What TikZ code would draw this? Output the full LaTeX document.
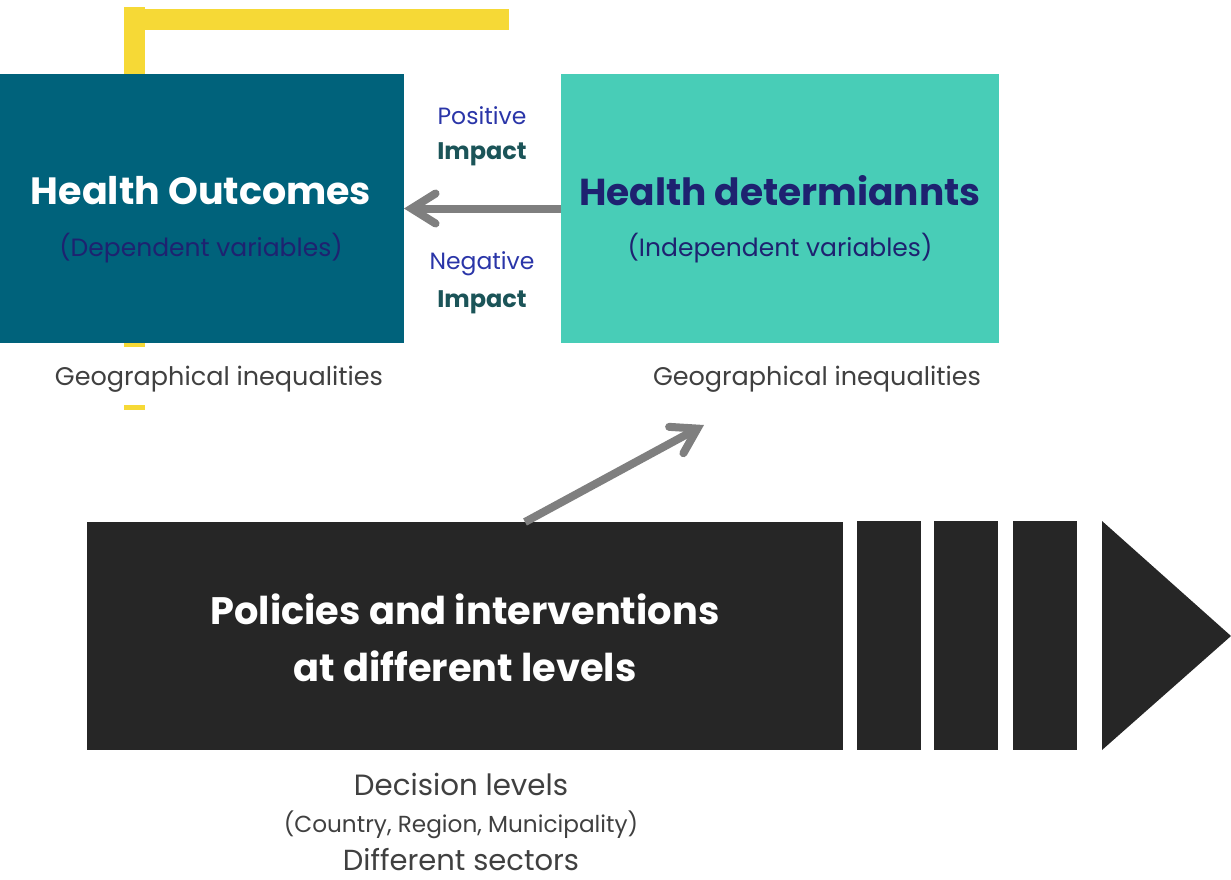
\documentclass[tikz,border=0pt]{standalone}
\usepackage{fontspec}
\setmainfont{Poppins}
\usetikzlibrary{arrows.meta}
\definecolor{teal}{HTML}{00627B}
\definecolor{mint}{HTML}{48CDB7}
\definecolor{ylw}{HTML}{F6D936}
\definecolor{navy}{HTML}{1E2270}
\definecolor{navyb}{HTML}{2A35A8}
\definecolor{impc}{HTML}{1B5458}
\definecolor{dark}{HTML}{262626}
\definecolor{arr}{HTML}{7F7F7F}
\definecolor{txt}{HTML}{404040}
\tikzset{
  box/.style={inner sep=0pt, outer sep=0pt, anchor=north west},
  conn/.style={draw=arr, line width=8pt, -{Straight Barb[length=24pt,width=30pt,line cap=round]}},
  lbl/.style={inner sep=0pt, text=txt},
}
\begin{document}
\begin{tikzpicture}[x=1pt,y=-1pt]
\useasboundingbox (0,0) rectangle (1231,879);
% yellow bracket
\fill[ylw] (124,7) rectangle (145,347);
\fill[ylw] (124,405) rectangle (145,410);
\fill[ylw] (124,9) rectangle (509,30);
% boxes
\node[box, fill=teal, minimum width=404pt, minimum height=269pt] (out) at (0,74) {};
\node[box, fill=mint, minimum width=438pt, minimum height=269pt] (det) at (561,74) {};
\node[text=white, font=\fontsize{38}{38}\selectfont\bfseries] (outT) at (201,191) {Health Outcomes};
\node[text=navy, font=\fontsize{25}{25}\selectfont] (outS) at (201,248) {(Dependent variables)};
\node[text=navy, font=\fontsize{37.5}{37.5}\selectfont\bfseries] (detT) at (780,191) {Health determiannts};
\node[text=navy, font=\fontsize{25}{25}\selectfont] (detS) at (780,248) {(Independent variables)};
\node[text=navyb, font=\fontsize{23.5}{23.5}\selectfont] (pos) at (482,116) {Positive};
\node[text=impc, font=\fontsize{24}{24}\selectfont\bfseries] (pimp) at (482,154) {Impact};
\node[text=navyb, font=\fontsize{23.5}{23.5}\selectfont] (neg) at (482,264) {Negative};
\node[text=impc, font=\fontsize{24}{24}\selectfont\bfseries] (nimp) at (482,302) {Impact};
\node[lbl, font=\fontsize{25.5}{25.5}\selectfont] (geo1) at (219,379) {Geographical inequalities};
\node[lbl, font=\fontsize{25.5}{25.5}\selectfont] (geo2) at (817,379) {Geographical inequalities};
% policy arrow
\node[box, fill=dark, minimum width=756pt, minimum height=228pt] (pol) at (87,522) {};
\node[box, fill=dark, minimum width=64pt, minimum height=229pt] (b1) at (857,521) {};
\node[box, fill=dark, minimum width=64pt, minimum height=229pt] (b2) at (934,521) {};
\node[box, fill=dark, minimum width=64pt, minimum height=229pt] (b3) at (1013,521) {};
\fill[dark] (1102,521) -- (1231,636) -- (1102,750) -- cycle;
\node[text=white, align=center, font=\fontsize{38.3}{57}\selectfont\bfseries] (polT) at (465,638) {Policies and interventions\\at different levels};
\node[lbl, font=\fontsize{29.3}{29.3}\selectfont] (dec) at (461,784) {Decision levels};
\node[lbl, font=\fontsize{23.2}{23.2}\selectfont] (cty) at (461,825) {(Country, Region, Municipality)};
\node[lbl, font=\fontsize{29}{29}\selectfont] (sec) at (461,860) {Different sectors};
% connectors
\draw[conn] (det.west) -- (out.east);
\coordinate (tip) at (704,425);
\draw[conn] ([xshift=60pt]pol.north) -- (tip);
\end{tikzpicture}
\end{document}
